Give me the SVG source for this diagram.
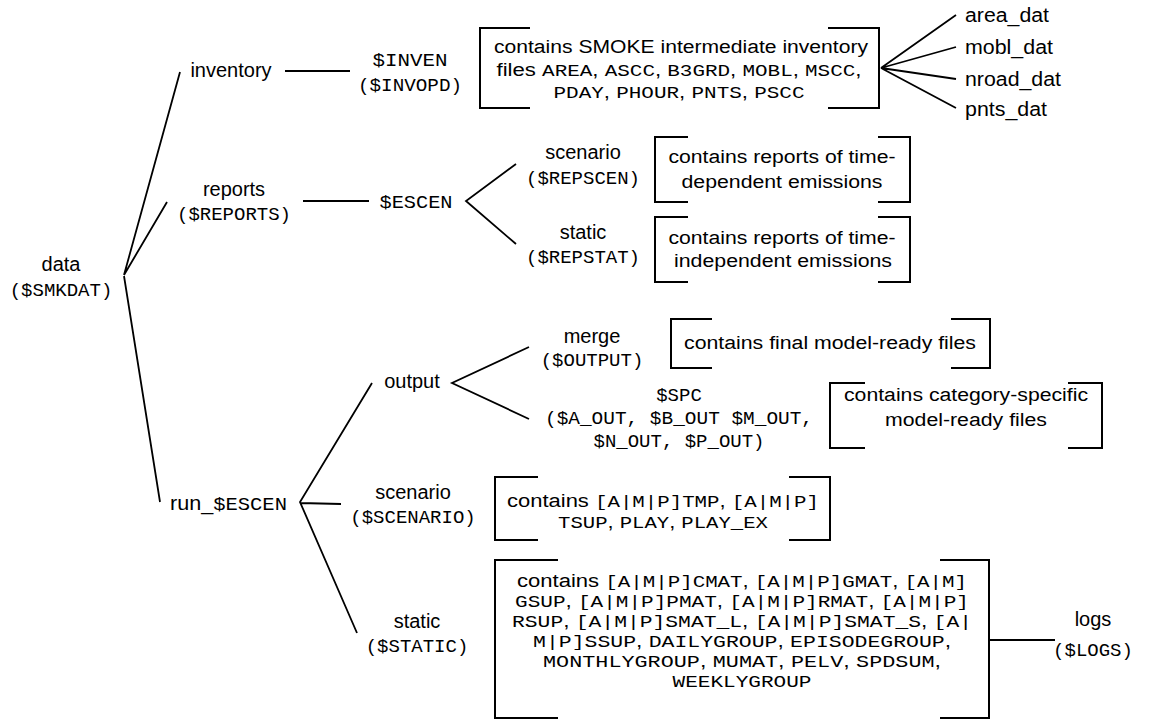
<svg xmlns="http://www.w3.org/2000/svg" width="1155" height="721" viewBox="0 0 1155 721">
<style>
.s{font-family:"Liberation Sans",Arial,Helvetica,sans-serif;font-size:20px;fill:#000}
.m{font-family:"Liberation Mono","Courier New",monospace;font-size:19px;fill:#000}
.b{font-family:"Liberation Sans",Arial,Helvetica,sans-serif;font-size:18px;fill:#000}
.b tspan.c{font-family:"Liberation Mono","Courier New",monospace;font-size:17px}
.br{fill:none;stroke:#000;stroke-width:2}
.ln{fill:none;stroke:#000;stroke-width:1.8}
</style>
<rect width="1155" height="721" fill="#fff"/>
<g id="connectors" class="ln">
<path d="M124,275 L180,72 M124,275 L167,202 M124,276 L160,502"/>
<path d="M285,71 H350"/>
<path d="M303,201 H369"/>
<path d="M516,164 L466,201 L516,244"/>
<path d="M881,68 L956,15 M881,68 L956,47 M881,68 L956,79 M881,68 L956,108"/>
<path d="M372,383 L300,502 L357,633 M300,503 L341,504"/>
<path d="M529,347 L452,383 L529,419"/>
<path d="M989,640 H1055"/>
</g>
<g id="data"><text class="s" x="61" y="271" text-anchor="middle">data</text><text class="m" x="61" y="296" text-anchor="middle">($SMKDAT)</text></g>
<g id="inventory"><text class="s" x="231" y="77" text-anchor="middle">inventory</text></g>
<g id="inven"><text class="m" x="410" y="66" text-anchor="middle" textLength="75" lengthAdjust="spacingAndGlyphs">$INVEN</text><text class="m" x="410" y="91" text-anchor="middle" textLength="104" lengthAdjust="spacingAndGlyphs">($INVOPD)</text></g>
<g id="box-inventory">
<path class="br" d="M530,28 H480 V108 H530 M828,28 H879 V108 H828"/>
<text class="b" x="681" y="53" text-anchor="middle" textLength="374" lengthAdjust="spacingAndGlyphs">contains SMOKE intermediate inventory</text>
<text class="b" x="679" y="76" text-anchor="middle" textLength="365" lengthAdjust="spacingAndGlyphs">files <tspan class="c">AREA</tspan>, <tspan class="c">ASCC</tspan>, <tspan class="c">B3GRD</tspan>, <tspan class="c">MOBL</tspan>, <tspan class="c">MSCC</tspan>,</text>
<text class="b" x="679" y="98" text-anchor="middle" textLength="251" lengthAdjust="spacingAndGlyphs"><tspan class="c">PDAY</tspan>, <tspan class="c">PHOUR</tspan>, <tspan class="c">PNTS</tspan>, <tspan class="c">PSCC</tspan></text>
</g>
<g id="area_dat"><text class="s" x="965" y="22" textLength="84" lengthAdjust="spacingAndGlyphs">area_dat</text></g>
<g id="mobl_dat"><text class="s" x="965" y="54" textLength="88" lengthAdjust="spacingAndGlyphs">mobl_dat</text></g>
<g id="nroad_dat"><text class="s" x="965" y="86" textLength="96" lengthAdjust="spacingAndGlyphs">nroad_dat</text></g>
<g id="pnts_dat"><text class="s" x="965" y="116" textLength="82" lengthAdjust="spacingAndGlyphs">pnts_dat</text></g>
<g id="reports"><text class="s" x="234" y="196" text-anchor="middle">reports</text><text class="m" x="234" y="220" text-anchor="middle">($REPORTS)</text></g>
<g id="escen"><text class="m" x="416" y="208" text-anchor="middle" textLength="73" lengthAdjust="spacingAndGlyphs">$ESCEN</text></g>
<g id="repscen"><text class="s" x="583" y="159" text-anchor="middle">scenario</text><text class="m" x="583" y="184" text-anchor="middle">($REPSCEN)</text></g>
<g id="box-repscen">
<path class="br" d="M688,137 H655 V202 H688 M878,137 H910 V202 H878"/>
<text class="b" x="782" y="163" text-anchor="middle" textLength="227" lengthAdjust="spacingAndGlyphs">contains reports of time-</text>
<text class="b" x="782" y="188" text-anchor="middle" textLength="201" lengthAdjust="spacingAndGlyphs">dependent emissions</text>
</g>
<g id="repstat"><text class="s" x="583" y="239" text-anchor="middle">static</text><text class="m" x="583" y="263" text-anchor="middle">($REPSTAT)</text></g>
<g id="box-repstat">
<path class="br" d="M688,217 H655 V282 H688 M878,217 H910 V282 H878"/>
<text class="b" x="782" y="244" text-anchor="middle" textLength="227" lengthAdjust="spacingAndGlyphs">contains reports of time-</text>
<text class="b" x="783" y="267" text-anchor="middle" textLength="218" lengthAdjust="spacingAndGlyphs">independent emissions</text>
</g>
<g id="run"><text x="170" y="510" textLength="117" lengthAdjust="spacingAndGlyphs"><tspan class="s">run_</tspan><tspan class="m">$ESCEN</tspan></text></g>
<g id="output"><text class="s" x="412" y="388" text-anchor="middle">output</text></g>
<g id="merge"><text class="s" x="592" y="343" text-anchor="middle">merge</text><text class="m" x="592" y="366" text-anchor="middle">($OUTPUT)</text></g>
<g id="box-merge">
<path class="br" d="M712,319 H671 V368 H712 M951,319 H990 V368 H951"/>
<text class="b" x="830" y="349" text-anchor="middle" textLength="292" lengthAdjust="spacingAndGlyphs">contains final model-ready files</text>
</g>
<g id="spc"><text class="m" x="679" y="401" text-anchor="middle">$SPC</text><text class="m" x="679" y="424" text-anchor="middle" textLength="268" lengthAdjust="spacingAndGlyphs">($A_OUT, $B_OUT  $M_OUT,</text><text class="m" x="679" y="447" text-anchor="middle">$N_OUT, $P_OUT)</text></g>
<g id="box-spc">
<path class="br" d="M865,383 H830 V448 H865 M1068,383 H1102 V448 H1068"/>
<text class="b" x="966" y="401" text-anchor="middle" textLength="244" lengthAdjust="spacingAndGlyphs">contains category-specific</text>
<text class="b" x="966" y="426" text-anchor="middle" textLength="162" lengthAdjust="spacingAndGlyphs">model-ready files</text>
</g>
<g id="scenario"><text class="s" x="413" y="499" text-anchor="middle">scenario</text><text class="m" x="413" y="523" text-anchor="middle">($SCENARIO)</text></g>
<g id="box-scenario">
<path class="br" d="M538,477 H495 V540 H538 M789,477 H830 V540 H789"/>
<text class="b" x="663" y="507" text-anchor="middle" textLength="312" lengthAdjust="spacingAndGlyphs">contains <tspan class="c">[A|M|P]TMP</tspan>, <tspan class="c">[A|M|P]</tspan></text>
<text class="b" x="663" y="528" text-anchor="middle" textLength="210" lengthAdjust="spacingAndGlyphs"><tspan class="c">TSUP</tspan>, <tspan class="c">PLAY</tspan>, <tspan class="c">PLAY_EX</tspan></text>
</g>
<g id="static"><text class="s" x="417" y="628" text-anchor="middle">static</text><text class="m" x="417" y="652" text-anchor="middle">($STATIC)</text></g>
<g id="box-static">
<path class="br" d="M558,560 H495 V718 H558 M940,560 H989 V718 H940"/>
<text class="b" x="742" y="587" text-anchor="middle" textLength="450" lengthAdjust="spacingAndGlyphs">contains <tspan class="c">[A|M|P]CMAT</tspan>, <tspan class="c">[A|M|P]GMAT</tspan>, <tspan class="c">[A|M]</tspan></text>
<text class="b" x="742" y="607" text-anchor="middle" textLength="454" lengthAdjust="spacingAndGlyphs"><tspan class="c">GSUP</tspan>, <tspan class="c">[A|M|P]PMAT</tspan>, <tspan class="c">[A|M|P]RMAT</tspan>, <tspan class="c">[A|M|P]</tspan></text>
<text class="b" x="742" y="627" text-anchor="middle" textLength="460" lengthAdjust="spacingAndGlyphs"><tspan class="c">RSUP</tspan>, <tspan class="c">[A|M|P]SMAT_L</tspan>, <tspan class="c">[A|M|P]SMAT_S</tspan>,  <tspan class="c">[A|</tspan></text>
<text class="b" x="742" y="647" text-anchor="middle" textLength="418" lengthAdjust="spacingAndGlyphs"><tspan class="c">M|P]SSUP</tspan>, <tspan class="c">DAILYGROUP</tspan>, <tspan class="c">EPISODEGROUP</tspan>,</text>
<text class="b" x="742" y="667" text-anchor="middle" textLength="398" lengthAdjust="spacingAndGlyphs"><tspan class="c">MONTHLYGROUP</tspan>, <tspan class="c">MUMAT</tspan>, <tspan class="c">PELV</tspan>, <tspan class="c">SPDSUM</tspan>,</text>
<text class="b" x="742" y="687" text-anchor="middle" textLength="139" lengthAdjust="spacingAndGlyphs"><tspan class="c">WEEKLYGROUP</tspan></text>
</g>
<g id="logs"><text class="s" x="1093" y="626" text-anchor="middle">logs</text><text class="m" x="1093" y="656" text-anchor="middle">($LOGS)</text></g>
</svg>
